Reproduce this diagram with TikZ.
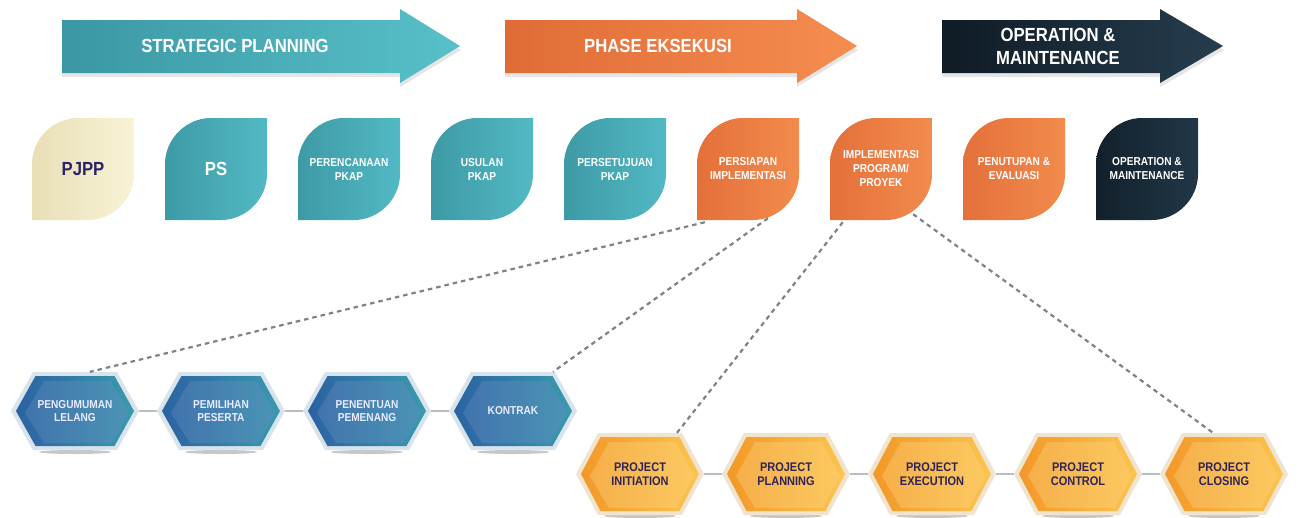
\documentclass[tikz,border=0pt]{standalone}
\usepackage{fontspec}
\setmainfont{Liberation Sans}
\newfontfamily\condf[FakeStretch=0.88]{Liberation Sans}
\usetikzlibrary{calc}
\definecolor{tealA}{HTML}{3A97A3}
\definecolor{tealB}{HTML}{58C0CA}
\definecolor{tlA}{HTML}{3D9AA5}
\definecolor{tlB}{HTML}{52B9C4}
\definecolor{orA}{HTML}{DF6C36}
\definecolor{orB}{HTML}{F68D50}
\definecolor{olA}{HTML}{E4703A}
\definecolor{olB}{HTML}{F28B4D}
\definecolor{navA}{HTML}{0F1B25}
\definecolor{navB}{HTML}{263D4E}
\definecolor{nlA}{HTML}{12202B}
\definecolor{nlB}{HTML}{213747}
\definecolor{creamA}{HTML}{E8DFB6}
\definecolor{creamB}{HTML}{F8F3D6}
\definecolor{pjtext}{HTML}{2B2468}
\definecolor{hbA}{HTML}{2B62A2}
\definecolor{hbB}{HTML}{3A9AAE}
\definecolor{hbM}{HTML}{4772B4}
\definecolor{hbF}{HTML}{D9E3EC}
\definecolor{hoA}{HTML}{F29828}
\definecolor{hoB}{HTML}{FCC44F}
\definecolor{hoM}{HTML}{F8B23A}
\definecolor{hoF}{HTML}{F1E4CF}
\definecolor{ptext}{HTML}{2E2457}
\definecolor{dashc}{HTML}{7C838C}
\definecolor{linkc}{HTML}{B7BEC6}
\tikzset{
  arrowtext/.style={text=white, font=\condf\bfseries\fontsize{19}{23}\selectfont, align=center, inner sep=0pt},
  leaftext/.style={text=white, font=\condf\bfseries\fontsize{11.5}{14}\selectfont, align=center, inner sep=0pt, minimum width=102pt, minimum height=102pt},
  bigleaf/.style={font=\condf\bfseries\fontsize{19}{22}\selectfont},
  bhtext/.style={text=white!92!blue, font=\condf\bfseries\fontsize{11.5}{13}\selectfont, align=center, inner sep=0pt, minimum width=128pt, minimum height=78pt},
  phtext/.style={text=ptext, font=\condf\bfseries\fontsize{12.5}{14}\selectfont, align=center, inner sep=0pt, minimum width=128pt, minimum height=82pt},
  dashline/.style={draw=dashc, line width=2.2pt, dash pattern=on 4.5pt off 4pt},
  hexlink/.style={draw=linkc, line width=1.5pt}
}
% name, x0, xb, tip, colL, colR, textx, text
\newcommand\bigarrow[8]{%
  \fill[black, opacity=.10] (#2,24) -- (#3,24) -- (#3,13) -- ({#4+1},50) -- (#3,87) -- (#3,77) -- (#2,77) -- cycle;
  \shade[left color=#5, right color=#6] (#2,20) -- (#3,20) -- (#3,9) -- (#4,46) -- (#3,83) -- (#3,73) -- (#2,73) -- cycle;
  \node[arrowtext] (#1) at (#7,46) {#8};
}
% name, x0, colL, colR, extra style, text
\newcommand\leaf[6]{%
  \shade[left color=#3, right color=#4] (#2,220) -- (#2,164) .. controls (#2,139) and ({#2+21},118) .. ({#2+46},118) -- ({#2+102},118) -- ({#2+102},174) .. controls ({#2+102},199) and ({#2+81},220) .. ({#2+56},220) -- cycle;
  \node[leaftext,#5] (#1) at ({#2+51},169) {#6};
}
% name, cx, text
\newcommand\bhex[3]{%
  \fill[black!55, opacity=.4] (#2,452) ellipse [x radius=36pt, y radius=2pt];
  \fill[hbF] ({#2-64},411) -- ({#2-42},372) -- ({#2+42},372) -- ({#2+64},411) -- ({#2+42},450) -- ({#2-42},450) -- cycle;
  \shade[left color=hbA, middle color=hbM, right color=hbB] ({#2-59},411) -- ({#2-39.5},376) -- ({#2+39.5},376) -- ({#2+59},411) -- ({#2+39.5},446) -- ({#2-39.5},446) -- cycle;
  \fill[hbM!80!white, opacity=.35] ({#2-50},413) -- ({#2-31},381) -- ({#2+36},381) -- ({#2+54},413) -- ({#2+37},443) -- ({#2-31},443) -- cycle;
  \node[bhtext] (#1) at (#2,411) {#3};
}
\newcommand\phex[3]{%
  \fill[black!55, opacity=.4] (#2,516) ellipse [x radius=36pt, y radius=2pt];
  \fill[hoF] ({#2-64},474) -- ({#2-42},433) -- ({#2+42},433) -- ({#2+64},474) -- ({#2+42},515) -- ({#2-42},515) -- cycle;
  \shade[left color=hoA, middle color=hoM, right color=hoB] ({#2-59},474) -- ({#2-39.5},437) -- ({#2+39.5},437) -- ({#2+59},474) -- ({#2+39.5},511) -- ({#2-39.5},511) -- cycle;
  \fill[hoB!70!white, opacity=.35] ({#2-50},476) -- ({#2-31},442) -- ({#2+36},442) -- ({#2+54},476) -- ({#2+37},508) -- ({#2-31},508) -- cycle;
  \node[phtext] (#1) at (#2,474) {#3};
}
\begin{document}
\begin{tikzpicture}[x=1pt, y=-1pt]
\useasboundingbox[fill=white] (0,0) rectangle (1299,517);
% top arrows
\bigarrow{a1}{62}{400}{460}{tealA}{tealB}{235}{STRATEGIC PLANNING}
\bigarrow{a2}{505}{797}{857}{orA}{orB}{658}{PHASE EKSEKUSI}
\bigarrow{a3}{942}{1160}{1223}{navA}{navB}{1058}{OPERATION \&\\MAINTENANCE}
% leaves
\leaf{l1}{32}{creamA}{creamB}{bigleaf,text=pjtext}{PJPP}
\leaf{l2}{165}{tlA}{tlB}{bigleaf}{PS}
\leaf{l3}{298}{tlA}{tlB}{}{PERENCANAAN\\PKAP}
\leaf{l4}{431}{tlA}{tlB}{}{USULAN\\PKAP}
\leaf{l5}{564}{tlA}{tlB}{}{PERSETUJUAN\\PKAP}
\leaf{l6}{697}{olA}{olB}{}{PERSIAPAN\\IMPLEMENTASI}
\leaf{l7}{830}{olA}{olB}{}{IMPLEMENTASI\\PROGRAM/\\PROYEK}
\leaf{l8}{963}{olA}{olB}{}{PENUTUPAN \&\\EVALUASI}
\leaf{l9}{1096}{nlA}{nlB}{}{OPERATION \&\\MAINTENANCE}
% blue hexagons
\bhex{b1}{75}{PENGUMUMAN\\LELANG}
\bhex{b2}{221}{PEMILIHAN\\PESERTA}
\bhex{b3}{367}{PENENTUAN\\PEMENANG}
\bhex{b4}{513}{KONTRAK}
\draw[hexlink] (b1.east) -- (b2.west);
\draw[hexlink] (b2.east) -- (b3.west);
\draw[hexlink] (b3.east) -- (b4.west);
% orange hexagons
\phex{p1}{640}{PROJECT\\INITIATION}
\phex{p2}{786}{PROJECT\\PLANNING}
\phex{p3}{932}{PROJECT\\EXECUTION}
\phex{p4}{1078}{PROJECT\\CONTROL}
\phex{p5}{1224}{PROJECT\\CLOSING}
\draw[hexlink] (p1.east) -- (p2.west);
\draw[hexlink] (p2.east) -- (p3.west);
\draw[hexlink] (p3.east) -- (p4.west);
\draw[hexlink] (p4.east) -- (p5.west);
% dashed connectors
\draw[dashline] ([xshift=8pt,yshift=-2pt]l6.south west) -- ([xshift=15pt]b1.north);
\draw[dashline] ([xshift=20pt,yshift=2pt]l6.south) -- ([xshift=40pt]b4.north);
\draw[dashline] ([xshift=13pt,yshift=-2pt]l7.south west) -- ([xshift=37pt]p1.north);
\draw[dashline] ([xshift=-19pt,yshift=6pt]l7.south east) -- ([xshift=-11pt]p5.north);
\end{tikzpicture}
\end{document}
